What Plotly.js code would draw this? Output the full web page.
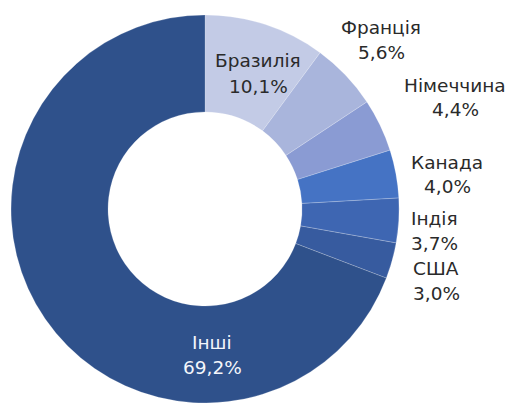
<!DOCTYPE html>
<html>
<head>
<meta charset="utf-8">
<script src="https://cdn.plot.ly/plotly-3.0.1.min.js"></script>
<style>html,body{margin:0;padding:0;background:#fff;}#chart{width:512px;height:403px;}</style>
</head>
<body>
<div id="chart"></div>
<script>
const categories = ["Бразилія", "Франція", "Німеччина", "Канада", "Індія", "США", "Інші"];
const shares = [10.1, 5.6, 4.4, 4.0, 3.7, 3.0, 69.2];
const shareLabels = ["10,1%", "5,6%", "4,4%", "4,0%", "3,7%", "3,0%", "69,2%"];
const colors = ["#c3cbe6", "#a9b5dc", "#8a9bd3", "#4573c4", "#3e66b2", "#375b9f", "#2f518b"];

// label placement (pixel centres of the two text lines), text colour
const labelPos = [
  [258, 61, 86, "#2a2a2a"],
  [381, 28, 52, "#2a2a2a"],
  [455, 85, 109, "#2a2a2a"],
  [447, 162, 186, "#2a2a2a"],
  [434, 218, 243, "#2a2a2a"],
  [436, 268, 293, "#2a2a2a"],
  [212, 342, 367, "#f4f6fb"]
];

const W = 512, H = 403;
const annotations = [];
categories.forEach((c, i) => {
  const p = labelPos[i];
  [[c, p[1]], [shareLabels[i], p[2]]].forEach(([t, y]) => {
    annotations.push({
      text: t, x: p[0] / W, y: 1 - y / H, xref: "paper", yref: "paper",
      xanchor: "center", yanchor: "middle", showarrow: false,
      font: {family: "'DejaVu Sans', sans-serif", size: 18.5, color: p[3]}
    });
  });
});

Plotly.newPlot("chart", [{
  type: "pie",
  labels: categories,
  values: shares,
  hole: 0.5,
  sort: false,
  direction: "clockwise",
  rotation: 0,
  textinfo: "none",
  marker: {colors: colors, line: {color: "rgba(255,255,255,0.35)", width: 0.6}},
  domain: {x: [0.02, 0.781], y: [0, 0.963]},
  showlegend: false
}], {
  width: W, height: H,
  margin: {l: 0, r: 0, t: 0, b: 0},
  paper_bgcolor: "#fff",
  annotations: annotations
}, {staticPlot: true});
</script>
</body>
</html>
